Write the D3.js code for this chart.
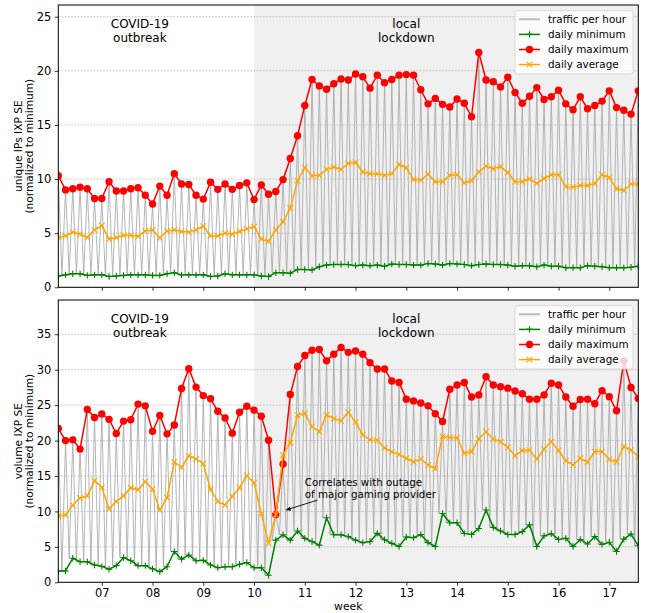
<!DOCTYPE html>
<html>
<head>
<meta charset="utf-8">
<script src="https://cdn.jsdelivr.net/npm/d3@7"></script>
<style>
  body { margin: 0; background: #fff; }
  text { font-family: 'DejaVu Sans', sans-serif; fill: #000; }
</style>
</head>
<body>
<svg id="chart" width="649" height="613"></svg>
<script>
// weeks of 2020, one point per day starting on the Tuesday of week 06
const firstWeek = 6 + 1 / 7
const lockdownWeek = 10
const weekTicks = [7, 8, 9, 10, 11, 12, 13, 14, 15, 16, 17]
const weekLabels = ['07', '08', '09', '10', '11', '12', '13', '14', '15', '16', '17']
const ipsTicks = [0, 5, 10, 15, 20, 25]
const volumeTicks = [0, 5, 10, 15, 20, 25, 30, 35]

// unique IPs, normalized to minimum
const ipsMin = [1.05, 1.15, 1.25, 1.25, 1.1, 1.15, 1.15, 1.0, 1.05, 1.1, 1.15, 1.15, 1.15, 1.1, 1.1, 1.25, 1.35, 1.15, 1.15, 1.15,
  1.15, 1.0, 1.05, 1.25, 1.15, 1.15, 1.15, 1.15, 1.05, 1.0, 1.35, 1.35, 1.3, 1.65, 1.65, 1.6, 1.9, 2.05,
  2.1, 2.1, 2.1, 2.0, 2.05, 2.0, 2.05, 1.95, 2.15, 2.1, 2.1, 2.05, 2.05, 2.2, 2.15, 2.05, 2.2,
  2.15, 2.1, 2.0, 2.1, 2.15, 2.1, 2.1, 2.05, 1.95, 2.0, 2.0, 1.9, 2.05, 1.95, 1.95, 1.8, 1.8, 1.8, 2.0, 1.95,
  1.9, 1.8, 1.8, 1.8, 1.85, 1.95]
const ipsMax = [10.3, 9.0, 9.1, 9.25, 9.1, 8.2, 8.2, 9.75, 8.9, 8.9, 9.1, 9.2, 8.5, 7.7, 9.35, 8.5, 10.5, 9.55, 9.5, 8.5,
  8.15, 9.7, 9.05, 9.55, 9.05, 9.4, 9.65, 8.1, 9.45, 8.6, 8.85, 9.95, 11.9, 14.0, 16.8, 19.2, 18.6, 18.3,
  18.8, 19.25, 19.15, 19.7, 19.45, 18.4, 19.6, 18.9, 19.2, 19.6, 19.65, 19.6, 18.25, 16.95, 17.45, 16.9, 16.65,
  17.4, 17.0, 15.75, 21.7, 19.15, 19.0, 18.5, 19.4, 18.0, 17.0, 17.65, 18.45, 17.35, 17.6, 18.2, 16.95, 16.4,
  17.6, 16.5, 16.8, 17.2, 18.15, 16.6, 16.35, 16.0, 18.15]
const ipsAvg = [4.6, 4.75, 5.1, 4.9, 4.6, 5.3, 5.7, 4.45, 4.6, 4.8, 4.8, 4.7, 5.2, 5.3, 4.55, 5.2, 5.3, 5.15, 5.1, 5.3,
  5.65, 4.75, 4.75, 5.0, 4.9, 5.15, 5.4, 5.6, 4.45, 4.25, 5.3, 6.05, 7.3, 9.85, 11.05, 10.3, 10.35, 10.9,
  11.1, 10.9, 11.45, 11.55, 10.65, 10.5, 10.5, 10.35, 10.5, 11.35, 11.05, 9.95, 9.9, 10.45, 9.75, 9.75, 10.35,
  10.4, 9.65, 9.85, 10.65, 11.2, 10.95, 11.15, 10.6, 9.75, 9.75, 10.0, 9.6, 10.05, 10.4, 10.4, 9.3, 9.25,
  9.4, 9.4, 9.6, 10.4, 10.15, 9.1, 8.95, 9.55, 9.55]

// traffic volume, normalized to minimum
const volMin = [1.6, 1.6, 3.4, 2.9, 2.9, 2.45, 2.25, 1.85, 2.35, 3.5, 3.05, 2.35, 2.35, 1.9, 1.5, 2.2, 4.35, 3.25, 3.85, 3.05,
  3.1, 2.45, 2.05, 2.2, 2.2, 2.55, 2.8, 2.05, 2.05, 1.0, 5.95, 6.7, 5.95, 7.25, 6.2, 5.75, 5.25, 9.1,
  6.7, 6.7, 6.45, 5.95, 5.6, 5.75, 6.9, 6.0, 5.5, 5.05, 6.4, 6.3, 6.75, 5.6, 5.05, 9.7, 8.4,
  8.4, 6.9, 6.75, 7.6, 10.2, 7.75, 7.25, 6.75, 6.75, 7.15, 8.1, 5.05, 6.55, 6.85, 6.05, 6.2, 5.05,
  6.05, 5.4, 6.45, 5.35, 5.65, 4.35, 6.1, 6.8, 5.15]
const volMax = [21.7, 20.0, 20.1, 18.8, 24.4, 23.25, 23.75, 23.0, 21.0, 22.75, 22.95, 25.15, 24.9, 21.3, 23.55, 20.95, 22.2, 27.35, 30.15, 27.55,
  26.35, 25.9, 24.15, 23.2, 21.05, 24.0, 24.85, 24.3, 23.45, 20.05, 9.55, 16.7, 26.5, 30.45, 32.0, 32.75, 32.85, 31.25,
  32.2, 33.15, 32.45, 32.65, 32.2, 31.0, 30.1, 30.1, 28.4, 28.2, 25.85, 25.6, 25.3, 24.9, 23.8, 22.7, 27.25,
  27.85, 28.2, 26.15, 26.45, 29.0, 27.85, 27.6, 27.4, 27.0, 26.6, 25.85, 25.85, 26.45, 28.1, 27.85, 26.15, 24.85,
  25.8, 25.85, 25.2, 27.05, 26.2, 24.2, 31.25, 27.5, 25.95]
const volAvg = [9.4, 9.5, 10.9, 11.9, 12.2, 14.35, 13.4, 10.35, 11.4, 12.2, 13.35, 13.05, 14.2, 13.15, 10.2, 11.95, 17.0, 16.2, 17.85, 17.4,
  16.75, 13.1, 11.4, 10.9, 12.1, 13.35, 15.05, 14.05, 9.7, 5.55, 9.55, 17.95, 19.7, 23.6, 23.85, 21.95, 21.25, 23.65,
  23.1, 22.8, 24.0, 22.6, 20.8, 20.1, 20.05, 18.95, 18.4, 18.05, 17.5, 17.0, 17.4, 16.55, 16.05, 20.6, 20.45,
  20.4, 18.2, 18.45, 20.25, 21.25, 20.2, 19.85, 19.05, 17.85, 18.6, 18.65, 17.4, 18.8, 19.85, 18.6, 17.15, 16.55,
  17.5, 16.95, 18.45, 18.45, 17.35, 17.0, 19.15, 18.65, 17.75]

const days = d3.range(ipsMax.length).map(i => firstWeek + i / 7)

const svg = d3.select('#chart')
const x = d3.scaleLinear()
  .domain([firstWeek, days[days.length - 1]])
  .range([58.3, 638.3])

const colors = { hour: '#a8a8a8', min: 'green', max: 'red', avg: 'orange' }
const plus = 'M-3.2,0H3.2M0,-3.2V3.2'
const cross = 'M-2.8,-2.8L2.8,2.8M-2.8,2.8L2.8,-2.8'

// multiline text, one element with a tspan per line
function multiline (sel, lines, lineHeight, x) {
  lines.forEach((t, k) => {
    sel.append('tspan')
      .attr('x', x)
      .attr('dy', k === 0 ? '0.35em' : lineHeight)
      .text(t)
  })
  return sel
}

function panel (id, top, yMax, yTicks, labels, series, showWeeks) {
  const height = 282.3
  const [left, right] = x.range()
  const y = d3.scaleLinear().domain([0, yMax]).range([top + height, top])
  const g = svg.append('g').attr('class', id)

  g.append('clipPath').attr('id', 'clip-' + id)
    .append('rect')
    .attr('x', left).attr('y', top)
    .attr('width', right - left).attr('height', height)

  // lockdown period
  g.append('rect')
    .attr('x', x(lockdownWeek)).attr('y', top)
    .attr('width', right - x(lockdownWeek)).attr('height', height)
    .attr('fill', '#f0f0f0')

  // horizontal grid
  g.append('g').selectAll('line')
    .data(yTicks)
    .join('line')
    .attr('x1', left).attr('x2', right)
    .attr('y1', d => y(d)).attr('y2', d => y(d))
    .attr('stroke', '#b0b0b0')
    .attr('stroke-width', 0.8)
    .attr('stroke-dasharray', '1.6,1.6')

  const plot = g.append('g').attr('clip-path', `url(#clip-${id})`)

  // hourly traffic: trough at night, peak in the evening
  const hourly = []
  days.forEach((d, i) => {
    hourly.push([d - 0.5 / 7, series.min[i]])
    hourly.push([d, series.max[i]])
  })
  const line = d3.line().x(d => x(d[0])).y(d => y(d[1]))
  plot.append('path')
    .datum(hourly)
    .attr('d', line)
    .attr('fill', 'none')
    .attr('stroke', colors.hour)
    .attr('stroke-width', 1)
    .attr('opacity', 0.85)

  const daily = d3.line().x((d, i) => x(days[i])).y(d => y(d))

  // daily minimum
  plot.append('path').datum(series.min).attr('d', daily)
    .attr('fill', 'none').attr('stroke', colors.min).attr('stroke-width', 1.5)
  plot.append('g').selectAll('path')
    .data(series.min)
    .join('path')
    .attr('transform', (d, i) => `translate(${x(days[i])},${y(d)})`)
    .attr('d', plus)
    .attr('stroke', colors.min).attr('stroke-width', 1.1)

  // daily maximum
  plot.append('path').datum(series.max).attr('d', daily)
    .attr('fill', 'none').attr('stroke', colors.max).attr('stroke-width', 1.5)
  plot.append('g').selectAll('circle')
    .data(series.max)
    .join('circle')
    .attr('cx', (d, i) => x(days[i]))
    .attr('cy', d => y(d))
    .attr('r', 3.7)
    .attr('fill', colors.max)

  // daily average
  plot.append('path').datum(series.avg).attr('d', daily)
    .attr('fill', 'none').attr('stroke', colors.avg).attr('stroke-width', 1.5)
  plot.append('g').selectAll('path')
    .data(series.avg)
    .join('path')
    .attr('transform', (d, i) => `translate(${x(days[i])},${y(d)})`)
    .attr('d', cross)
    .attr('stroke', colors.avg).attr('stroke-width', 1.1)

  // period labels
  const periods = [{ week: 7.75, text: ['COVID-19', 'outbreak'] }, { week: 13.0, text: ['local', 'lockdown'] }]
  periods.forEach(p => {
    const t = g.append('text')
      .attr('y', top + 18.6)
      .attr('text-anchor', 'middle')
      .style('font-size', '12px')
    multiline(t, p.text, 14.1, x(p.week))
  })

  // axes
  const yAxis = g.append('g')
    .attr('transform', `translate(${left},0)`)
    .call(d3.axisLeft(y).tickValues(yTicks).tickSize(3.5).tickPadding(3.5))
  const xAxis = g.append('g')
    .attr('transform', `translate(0,${top + height})`)
    .call(d3.axisBottom(x).tickValues(weekTicks).tickSize(3.5).tickPadding(3.5)
      .tickFormat((d, i) => showWeeks ? weekLabels[i] : ''))
  ;[yAxis, xAxis].forEach(a => {
    a.select('.domain').remove()
    a.selectAll('text').style('font-size', '11.5px').attr('fill', '#000').style('font-family', "'DejaVu Sans', sans-serif")
    a.selectAll('line').attr('stroke', '#000').attr('stroke-width', 0.8)
  })

  g.append('rect')
    .attr('x', left).attr('y', top)
    .attr('width', right - left).attr('height', height)
    .attr('fill', 'none').attr('stroke', '#000').attr('stroke-width', 1)

  // y label, two lines
  labels.forEach((t, k) => {
    g.append('text')
      .attr('transform', `translate(${18.5 + k * 11},${top + height / 2}) rotate(-90)`)
      .attr('dy', '0.35em')
      .attr('text-anchor', 'middle')
      .style('font-size', '10.6px')
      .text(t)
  })

  // legend
  const legend = g.append('g').attr('transform', `translate(515,${top + 5.7})`)
  legend.append('rect')
    .attr('width', 118).attr('height', 63.3).attr('rx', 2.5)
    .attr('fill', '#fff').attr('fill-opacity', 0.8)
    .attr('stroke', '#d0d0d0').attr('stroke-width', 0.8)
  const entries = [
    { name: 'traffic per hour', color: '#bbbbbb', marker: null },
    { name: 'daily minimum', color: colors.min, marker: plus },
    { name: 'daily maximum', color: colors.max, marker: 'circle' },
    { name: 'daily average', color: colors.avg, marker: cross }
  ]
  entries.forEach((e, k) => {
    const row = legend.append('g').attr('transform', `translate(0,${8.6 + k * 15.1})`)
    row.append('line')
      .attr('x1', 4).attr('x2', 25)
      .attr('stroke', e.color).attr('stroke-width', e.marker ? 1.5 : 2)
    if (e.marker === 'circle') {
      row.append('circle').attr('cx', 14.5).attr('r', 3.7).attr('fill', e.color)
    } else if (e.marker) {
      row.append('path').attr('transform', 'translate(14.5,0)').attr('d', e.marker)
        .attr('stroke', e.color).attr('stroke-width', 1.1)
    }
    row.append('text')
      .attr('x', 33)
      .attr('dy', '0.35em')
      .style('font-size', '10.4px')
      .text(e.name)
  })

  return { g, y }
}

panel('ips', 5, 26.08, ipsTicks, ['unique IPs IXP SE', '(normalized to minimum)'],
  { min: ipsMin, max: ipsMax, avg: ipsAvg }, false)

const volume = panel('volume', 300, 39.84, volumeTicks, ['volume IXP SE', '(normalized to minimum)'],
  { min: volMin, max: volMax, avg: volAvg }, true)

// annotation for the outage dip
const note = { week: 11.0, lines: ['Correlates with outage', 'of major gaming provider'], from: [11.25, 11.6], to: [10.63, 10.2] }
svg.append('defs').append('marker')
  .attr('id', 'arrow')
  .attr('viewBox', '0 0 10 10')
  .attr('refX', 10).attr('refY', 5)
  .attr('markerWidth', 6).attr('markerHeight', 5)
  .attr('orient', 'auto')
  .append('path')
  .attr('d', 'M0,0L10,5L0,10z')
  .attr('fill', '#000')
volume.g.append('line')
  .attr('x1', x(note.from[0])).attr('y1', volume.y(note.from[1]))
  .attr('x2', x(note.to[0])).attr('y2', volume.y(note.to[1]))
  .attr('stroke', '#000').attr('stroke-width', 0.9)
  .attr('marker-end', 'url(#arrow)')
const noteText = volume.g.append('text')
  .attr('y', volume.y(14.1))
  .style('font-size', '10.3px')
multiline(noteText, note.lines, 12.1, x(note.week))

svg.append('text')
  .attr('x', (x.range()[0] + x.range()[1]) / 2)
  .attr('y', 606.6)
  .attr('dy', '0.35em')
  .attr('text-anchor', 'middle')
  .style('font-size', '10.8px')
  .text('week')
</script>
</body>
</html>
